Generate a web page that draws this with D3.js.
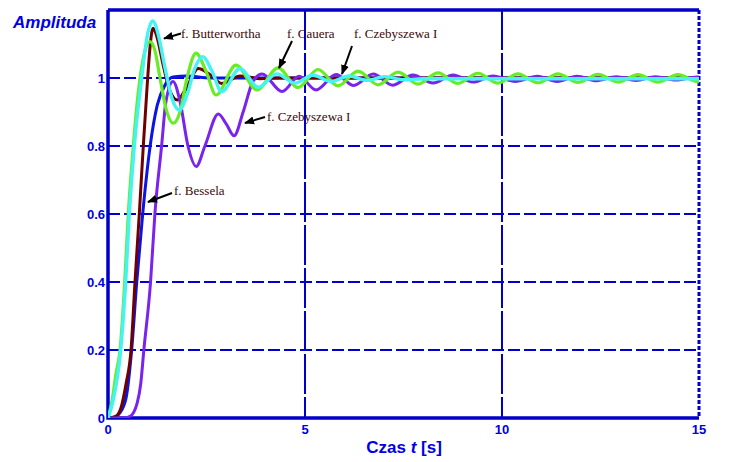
<!DOCTYPE html>
<html><head><meta charset="utf-8">
<script src="https://cdn.jsdelivr.net/npm/d3@7"></script>
<style>body{margin:0;background:#fff}svg{display:block}</style>
</head><body>
<svg id="c" width="733" height="462"></svg>
<script>
// ---- data ----
const xTicks = [0, 5, 10, 15];
const yTicks = [0, 0.2, 0.4, 0.6, 0.8, 1];
const xGrid = [5, 10];
const yGrid = [0.2, 0.4, 0.6, 0.8, 1];

const bessel = [[0,0],[0.18,0.003],[0.3,0.015],[0.46,0.06],[0.6,0.2],[0.73,0.4],[0.88,0.6],[1.07,0.8],[1.25,0.92],[1.45,0.98],[1.65,1.003],[2.0,1.006],[2.6,1.0],[15,1.0]];
const butter = [[0,0],[0.2,0.005],[0.33,0.03],[0.457,0.1],[0.584,0.2],[0.685,0.4],[0.794,0.6],[0.896,0.8],[0.99,0.97],[1.066,1.09],[1.142,1.146],[1.244,1.12],[1.396,1.04],[1.574,0.96],[1.759,0.935],[2.005,0.975],[2.292,1.028],[2.589,1.01],[2.886,0.984],[3.35,1.006],[3.858,0.998],[4.365,1.0],[15,1.0]];
const cheb2 = [[0,0],[0.4,0.0],[0.56,0.005],[0.74,0.044],[0.83,0.1],[0.91,0.2],[1.08,0.4],[1.19,0.6],[1.36,0.8],[1.47,0.93],[1.65,0.99],[1.83,0.93],[2.03,0.8],[2.24,0.74],[2.46,0.8],[2.8,0.894],[3.0,0.865],[3.2,0.83],[3.43,0.9],[3.68,0.99],[3.91,1.012],[4.42,0.96],[4.85,1.005],[5.28,0.965],[5.79,1.01],[6.24,0.978],[6.73,1.012],[7.23,0.979],[7.74,1.009],[8.25,0.985],[8.76,1.009],[9.26,0.988],[9.77,1.006],[10.33,0.99],[10.9,1.005],[11.4,0.99],[11.9,1.005],[12.4,0.992],[12.9,1.004],[13.4,0.993],[13.9,1.004],[14.4,0.994],[14.95,1.003],[15,1.003]];
const cauer = [[0,0],[0.102,0.05],[0.203,0.13],[0.305,0.2],[0.424,0.4],[0.515,0.6],[0.642,0.8],[0.761,0.95],[0.838,1.02],[0.939,1.08],[1.066,1.107],[1.193,1.08],[1.32,1.0],[1.472,0.91],[1.657,0.867],[1.827,0.9],[2.005,1.0],[2.233,1.073],[2.487,1.02],[2.741,0.95],[3.249,1.038],[3.782,0.965],[4.315,1.03],[4.822,0.972],[5.33,1.025],[5.838,0.977],[6.345,1.02],[6.853,0.98],[7.36,1.017],[7.868,0.982],[8.376,1.015],[8.883,0.984],[9.39,1.014],[9.898,0.985],[10.406,1.012],[10.914,0.986],[11.421,1.012],[11.929,0.987],[12.437,1.011],[12.944,0.988],[13.452,1.01],[13.96,0.988],[14.467,1.01],[14.975,0.989],[15,0.989]];
const cheb1 = [[0,0],[0.127,0.05],[0.322,0.2],[0.449,0.4],[0.541,0.6],[0.668,0.8],[0.855,1.0],[0.99,1.12],[1.135,1.168],[1.269,1.13],[1.447,1.03],[1.624,0.94],[1.81,0.906],[2.005,0.95],[2.208,1.03],[2.404,1.063],[2.64,1.02],[2.886,0.96],[3.35,1.028],[3.815,0.973],[4.282,1.012],[4.746,0.985],[5.2,1.008],[5.66,0.99],[6.12,1.006],[6.57,0.993],[7.03,1.004],[7.49,0.995],[8.0,0.998],[15,0.998]];

const series = [
  {name:"bessel", data:bessel, color:"#0a14e6", w:3},
  {name:"butter", data:butter, color:"#6e0000", w:3},
  {name:"cheb2", data:cheb2, color:"#7a22ee", w:3},
  {name:"cauer", data:cauer, color:"#66ee22", w:3.2},
  {name:"cheb1", data:cheb1, color:"#44f4f4", w:3.4}
];

const labels = [
  {text:"f. Butterwortha", x:181, y:38, ax:[181,33.5,164,38.5]},
  {text:"f. Cauera", x:287, y:38, ax:[292,41,279,68]},
  {text:"f. Czebyszewa I", x:354, y:38, ax:[352,46,342,74]},
  {text:"f. Czebyszewa I", x:267, y:121, ax:[265,117,245,123]},
  {text:"f. Bessela", x:174, y:195, ax:[172,193,148,202]}
];

// ---- layout ----
const L = 108, R = 699, T = 10, B = 418;
const axisCol = "#0000c8", textCol = "#0000e6";
const svg = d3.select("#c");
const x = d3.scaleLinear().domain([0, 15]).range([L, R]);
const y = d3.scaleLinear().domain([0, 1.2]).range([B, T]);

svg.append("defs").append("clipPath").attr("id","clip")
  .append("rect").attr("x",L).attr("y",T).attr("width",R-L).attr("height",B-T);
const mk = svg.select("defs").append("marker").attr("id","arr")
  .attr("viewBox","0 0 10 10").attr("refX",9).attr("refY",5)
  .attr("markerWidth",5).attr("markerHeight",5).attr("orient","auto");
mk.append("path").attr("d","M0,1L10,5L0,9Z").attr("fill","#000");

// grid
svg.append("g").selectAll("line").data(yGrid).join("line")
  .attr("x1",L).attr("x2",R).attr("y1",d=>y(d)).attr("y2",d=>y(d))
  .attr("stroke",axisCol).attr("stroke-width",2).attr("stroke-dasharray","12,4");
svg.append("g").selectAll("line").data(xGrid).join("line")
  .attr("y1",T).attr("y2",B).attr("x1",d=>x(d)).attr("x2",d=>x(d))
  .attr("stroke",axisCol).attr("stroke-width",2).attr("stroke-dasharray","40,3");

// border
svg.append("path").attr("d",`M${L},${T}H${R}M${L},${T}V${B}H${R}`)
  .attr("fill","none").attr("stroke",axisCol).attr("stroke-width",3.5);
svg.append("line").attr("x1",R).attr("x2",R).attr("y1",T).attr("y2",B)
  .attr("stroke",axisCol).attr("stroke-width",3).attr("stroke-dasharray","4,2");

// curves
const line = d3.line().x(d=>x(d[0])).y(d=>y(d[1])).curve(d3.curveMonotoneX);
const cg = svg.append("g").attr("clip-path","url(#clip)");
series.forEach(s=>{
  cg.append("path").datum(s.data).attr("d",line).attr("fill","none")
    .attr("stroke",s.color).attr("stroke-width",s.w).attr("stroke-linejoin","round");
  if (s.name==="butter") {
    cg.append("path").datum(s.data.filter(d=>d[0]>=1.1 && d[0]<=2.1)).attr("d",line)
      .attr("fill","none").attr("stroke","#000").attr("stroke-width",1)
      .attr("transform","translate(1.2,0)");
  }
});

// tick labels
svg.append("g").selectAll("text").data(yTicks).join("text")
  .attr("x",105).attr("y",d=>y(d)+4.5).attr("text-anchor","end")
  .attr("font-family","Liberation Sans, Arial, sans-serif").attr("font-weight","bold")
  .attr("font-size",13).attr("fill",textCol).text(d=>d3.format("")(d));
svg.append("g").selectAll("text").data(xTicks).join("text")
  .attr("x",d=>x(d)).attr("y",434).attr("text-anchor","middle")
  .attr("font-family","Liberation Sans, Arial, sans-serif").attr("font-weight","bold")
  .attr("font-size",13).attr("fill",textCol).text(d=>d);

// axis titles
svg.append("text").attr("x",13).attr("y",28)
  .attr("font-family","Liberation Sans, Arial, sans-serif").attr("font-weight","bold")
  .attr("font-style","italic").attr("font-size",17).attr("fill",textCol).text("Amplituda");
const xt = svg.append("text").attr("x",404).attr("y",453).attr("text-anchor","middle")
  .attr("font-family","Liberation Sans, Arial, sans-serif").attr("font-weight","bold")
  .attr("font-size",17).attr("fill",textCol);
xt.append("tspan").text("Czas ");
xt.append("tspan").attr("font-style","italic").text("t");
xt.append("tspan").text(" [s]");

// annotations
labels.forEach(l=>{
  svg.append("line").attr("x1",l.ax[0]).attr("y1",l.ax[1]).attr("x2",l.ax[2]).attr("y2",l.ax[3])
    .attr("stroke","#000").attr("stroke-width",2).attr("marker-end","url(#arr)");
  svg.append("text").attr("x",l.x).attr("y",l.y)
    .attr("font-family","Liberation Serif, Times New Roman, serif")
    .attr("font-size",13).attr("fill","#3a0808").text(l.text);
});
</script>
</body></html>
